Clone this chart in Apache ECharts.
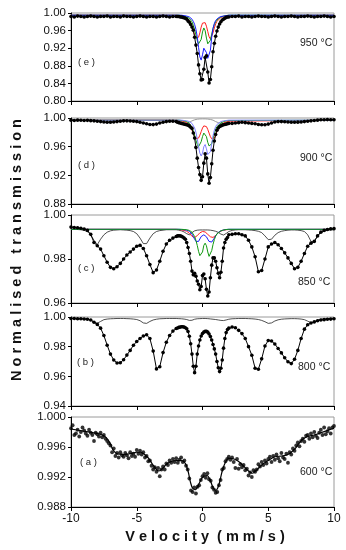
<!DOCTYPE html>
<html><head><meta charset="utf-8">
<script src="https://cdn.jsdelivr.net/npm/echarts@6/dist/echarts.min.js"></script>
<style>html,body{margin:0;padding:0;background:#fff}#c{width:346px;height:550px}</style>
</head><body><div id="c"></div>
<script>
// velocity grid (mm/s) used by panels e-b
const V = [-10,-9.75,-9.5,-9.25,-9,-8.75,-8.5,-8.25,-8,-7.75,-7.5,-7.25,-7,-6.75,-6.5,-6.25,-6,-5.75,-5.5,-5.25,-5,-4.75,-4.5,-4.25,-4,-3.75,-3.5,-3.25,-3,-2.75,-2.5,-2.25,-2,
-1.9,-1.8,-1.7,-1.6,-1.5,-1.4,-1.3,-1.2,-1.1,-1,-0.9,-0.8,-0.7,-0.6,-0.5,-0.4,-0.3,-0.2,-0.1,0,0.1,0.2,0.3,0.4,0.5,0.6,0.7,0.8,0.9,1,1.1,1.2,1.3,1.4,1.5,1.6,1.7,1.8,1.9,
2,2.25,2.5,2.75,3,3.25,3.5,3.75,4,4.25,4.5,4.75,5,5.25,5.5,5.75,6,6.25,6.5,6.75,7,7.25,7.5,7.75,8,8.25,8.5,8.75,9,9.25,9.5,9.75,10];
// velocity grid for central doublet components
const CG = [-10,-2,-1.8,-1.6,-1.4,-1.2,-1.1,-1,-0.9,-0.8,-0.7,-0.6,-0.5,-0.4,-0.3,-0.2,-0.1,0,0.1,0.2,0.3,0.4,0.5,0.6,0.7,0.8,0.9,1,1.1,1.2,1.4,1.6,1.8,2,10];

// (e) 950 C
const eData = [.992,.991,.993,.992,.991,.992,.993,.992,.991,.992,.992,.993,.991,.992,.992,.991,.993,.992,.992,.991,.992,.993,.992,.991,.992,.992,.991,.992,.993,.992,.991,.992,.992,
.992,.992,.991,.991,.990,.989,.988,.986,.982,.979,.974,.968,.961,.945,.927,.908,.882,.862,.848,.849,.872,.899,.903,.866,.841,.849,.878,.912,.931,.947,.959,.968,.975,.980,.984,.986,.988,.990,.991,
.991,.992,.992,.993,.991,.992,.992,.991,.992,.993,.992,.992,.991,.992,.993,.992,.991,.992,.992,.993,.992,.991,.992,.992,.993,.992,.991,.992,.992,.993,.992,.991,.992];
const eRed = [.995,.995,.994,.993,.992,.989,.987,.983,.978,.970,.960,.950,.943,.941,.945,.955,.968,.977,.981,.978,.970,.958,.946,.941,.945,.955,.966,.975,.981,.985,.990,.992,.993,.994,.995];
const eGreen = [.995,.995,.995,.994,.993,.991,.990,.988,.985,.980,.972,.962,.950,.938,.930,.929,.940,.957,.966,.960,.943,.930,.929,.938,.952,.965,.974,.980,.984,.987,.991,.993,.994,.995,.995];
const eBlue = [.995,.995,.995,.995,.994,.993,.992,.991,.989,.986,.981,.974,.963,.946,.922,.900,.893,.905,.920,.921,.910,.897,.895,.915,.945,.965,.976,.983,.987,.989,.992,.993,.994,.995,.995];

// (d) 900 C
const dData = [.997,.9965,.997,.9968,.9965,.9967,.9963,.996,.9955,.995,.9945,.994,.994,.9945,.995,.9955,.996,.996,.9958,.9955,.995,.994,.993,.992,.991,.9908,.9915,.993,.994,.995,.9955,.9955,.995,
.994,.9935,.993,.9925,.992,.9915,.991,.9905,.990,.989,.987,.9855,.979,.972,.959,.944,.931,.921,.913,.918,.937,.950,.944,.922,.909,.917,.936,.955,.968,.977,.983,.986,.988,.989,.990,.9905,.991,.9915,.992,
.9925,.9925,.993,.9935,.994,.9935,.993,.9925,.992,.991,.9905,.9905,.9915,.993,.9945,.995,.995,.9948,.9945,.994,.994,.9942,.9945,.995,.9955,.996,.9965,.997,.9975,.9975,.9978,.9975,.9975];
const dRed = [.997,.997,.9965,.996,.995,.9935,.992,.990,.987,.983,.978,.974,.971,.970,.972,.976,.981,.986,.989,.990,.988,.984,.979,.974,.971,.970,.972,.976,.981,.985,.990,.993,.9945,.9955,.997];
const dGreen = [.997,.997,.997,.9965,.996,.995,.994,.9925,.990,.987,.982,.976,.969,.963,.960,.961,.967,.974,.979,.979,.974,.966,.961,.960,.964,.971,.978,.984,.988,.990,.993,.995,.996,.9965,.997];
const dBlue = [.997,.997,.997,.997,.9965,.996,.9955,.995,.994,.9925,.990,.986,.980,.971,.960,.951,.947,.951,.960,.963,.957,.949,.947,.953,.964,.975,.983,.988,.991,.993,.995,.996,.9965,.997,.997];
const dGray = [null,.995,.994,.993,.9925,.993,.9935,.994,.995,.996,.997,.9975,.998,.9983,.9985,.9987,.9988,.9988,.9988,.9988,.9987,.9985,.9983,.998,.9975,.997,.996,.995,.994,.9935,.993,.9925,.9925,.993,null];

// (c) 850 C
const cData = [.9945,.9943,.9942,.994,.9936,.993,.9912,.9875,.986,.9845,.9815,.9785,.9762,.9756,.9765,.978,.980,.9818,.9832,.9845,.9858,.9862,.9848,.9815,.9775,.9738,.975,.979,.9835,.9868,.9885,.9895,.9902,
.9905,.9906,.9905,.9903,.990,.9895,.989,.9875,.9852,.9825,.979,.9745,.9728,.9735,.9722,.970,.9685,.966,.9675,.9725,.9732,.971,.9662,.9632,.965,.9715,.9772,.9805,.9805,.979,.976,.9735,.9715,.974,.979,.985,.9875,.989,.9898,
.991,.9912,.9915,.9915,.991,.9905,.9885,.9855,.981,.9742,.9748,.980,.9855,.9868,.9875,.9865,.9848,.9828,.9805,.978,.9756,.9762,.979,.9825,.9858,.9872,.988,.9905,.9922,.993,.9934,.9937,.9938];
const cThin = [.9935,.9935,.9934,.9933,.993,.9925,.991,.9885,.9865,.989,.991,.9922,.9928,.9931,.9932,.9933,.9932,.9931,.9929,.9925,.9915,.9895,.987,.987,.9895,.9915,.9925,.9929,.9931,.9933,.9933,.9933,.9933,
.9932,.9931,.993,.9928,.9926,.9923,.992,.9915,.991,.991,.9915,.992,.9925,.9928,.993,.9931,.9932,.9932,.9932,.9932,.9932,.9932,.9932,.9932,.9931,.9931,.993,.9929,.9928,.9926,.9924,.9921,.9917,.9913,.991,.9909,.9911,.9916,.9921,
.9925,.993,.9932,.9933,.9933,.9933,.9932,.9931,.9929,.9926,.992,.9905,.9888,.989,.9908,.992,.9926,.9929,.9931,.9932,.9932,.9931,.9929,.9925,.991,.988,.9878,.9905,.992,.9927,.993,.9932,.9933];
const cRed = [.9935,.9935,.9934,.9932,.993,.9926,.9922,.9917,.991,.9903,.9899,.9898,.990,.9906,.9913,.9919,.9923,.9925,.9925,.9923,.9918,.9912,.9906,.9901,.9898,.9898,.9901,.9907,.9914,.992,.9927,.9931,.9933,.9934,.9935];
const cBlue = [.9935,.9935,.9935,.9934,.9933,.9931,.9929,.9926,.9921,.9913,.9902,.989,.988,.9876,.988,.9891,.9902,.9908,.991,.9908,.9901,.989,.988,.9876,.9877,.9884,.9895,.9906,.9915,.9921,.9928,.9932,.9934,.9935,.9935];
const cGreen = [.9935,.9935,.9935,.9935,.9934,.9933,.9932,.993,.9927,.9922,.9914,.9902,.9885,.9862,.9835,.9815,.9812,.9832,.9862,.9872,.986,.9832,.9812,.9815,.9838,.9866,.9888,.9904,.9914,.9921,.9928,.9932,.9934,.9935,.9935];

// (b) 800 C
const bData = [.999,.999,.9988,.9988,.9987,.9985,.998,.9965,.995,.9925,.9875,.981,.975,.971,.969,.9692,.9712,.9743,.9775,.981,.9835,.9855,.9872,.988,.9855,.977,.965,.9665,.976,.983,.9875,.9905,.9922,
.9926,.993,.9932,.9934,.9934,.9932,.9928,.992,.9902,.987,.982,.975,.9668,.9625,.9668,.975,.9805,.9845,.9872,.9888,.9898,.9903,.9903,.9898,.9885,.9868,.9845,.9815,.9785,.975,.970,.9658,.9632,.9655,.971,.979,.9855,.9895,.9915,
.9925,.9933,.9928,.991,.9888,.9855,.980,.9742,.9655,.9648,.9718,.9805,.9842,.9838,.9818,.9788,.9758,.9725,.9698,.9686,.9715,.9775,.9855,.9918,.9948,.996,.9967,.9975,.998,.9982,.9985,.9986,.9988];
const bThin = [.999,.999,.999,.9989,.9988,.9985,.998,.9965,.9958,.997,.9982,.9986,.9988,.9989,.999,.999,.999,.9989,.9988,.9986,.9983,.9975,.996,.9957,.997,.998,.9985,.9988,.9989,.999,.999,.999,.999,
.999,.9989,.9989,.9988,.9987,.9986,.9985,.9983,.998,.9977,.9976,.9978,.9982,.9985,.9987,.9988,.9989,.9989,.999,.999,.999,.999,.9989,.9989,.9988,.9987,.9986,.9985,.9984,.9983,.9982,.998,.9979,.9977,.9976,.9976,.9978,.998,.9983,
.9985,.9988,.9989,.999,.999,.999,.9989,.9988,.9986,.9983,.9977,.9968,.9957,.996,.9973,.9981,.9985,.9987,.9988,.9989,.9989,.9988,.9986,.9982,.9972,.9962,.9968,.998,.9985,.9988,.9989,.999,.999];

// (a) 600 C
const xA = [-10,-9.875,-9.75,-9.625,-9.5,-9.375,-9.25,-9.125,-9,-8.875,-8.75,-8.625,-8.5,-8.375,-8.25,-8.125,
-8,-7.875,-7.75,-7.625,-7.5,-7.375,-7.25,-7.125,-7,-6.875,-6.75,-6.625,-6.5,-6.375,-6.25,-6.125,
-6,-5.875,-5.75,-5.625,-5.5,-5.375,-5.25,-5.125,-5,-4.875,-4.75,-4.625,-4.5,-4.375,-4.25,-4.125,
-4,-3.875,-3.75,-3.625,-3.5,-3.375,-3.25,-3.125,-3,-2.875,-2.75,-2.625,-2.5,-2.375,-2.25,-2.125,
-2,-1.875,-1.75,-1.625,-1.5,-1.375,-1.25,-1.125,-1,-0.875,-0.75,-0.625,-0.5,-0.375,-0.25,-0.125,
0,0.125,0.25,0.375,0.5,0.625,0.75,0.875,1,1.125,1.25,1.375,1.5,1.625,1.75,1.875,
2,2.125,2.25,2.375,2.5,2.625,2.75,2.875,3,3.125,3.25,3.375,3.5,3.625,3.75,3.875,
4,4.125,4.25,4.375,4.5,4.625,4.75,4.875,5,5.125,5.25,5.375,5.5,5.625,5.75,5.875,
6,6.125,6.25,6.375,6.5,6.625,6.75,6.875,7,7.125,7.25,7.375,7.5,7.625,7.75,7.875,
8,8.125,8.25,8.375,8.5,8.625,8.75,8.875,9,9.125,9.25,9.375,9.5,9.625,9.75,9.875,10];
const aDots = [.9985,.9989,.9976,.9978,.9983,.9974,.9980,.9986,.9982,.9978,.9975,.9983,.9979,.9976,.9968,.9979,
.9977,.9974,.9979,.9973,.9976,.9971,.9968,.9965,.9962,.9953,.9958,.9948,.9952,.9946,.9953,.9949,
.9947,.9952,.9949,.9945,.9953,.9948,.9951,.9947,.9956,.9951,.9955,.9950,.9953,.9946,.9948,.9941,
.9942,.9935,.9930,.9933,.9927,.9932,.9921,.9930,.9934,.9930,.9938,.9936,.9942,.9939,.9944,.9940,
.9945,.9939,.9943,.9946,.9940,.9942,.9935,.9930,.9918,.9902,.9900,.9906,.9898,.9907,.9909,.9916,
.9921,.9924,.9919,.9925,.9917,.9915,.9906,.9903,.9899,.9900,.9909,.9916,.9930,.9932,.9941,.9944,
.9947,.9943,.9946,.9940,.9932,.9944,.9931,.9937,.9933,.9936,.9929,.9931,.9922,.9926,.9920,.9929,
.9927,.9930,.9937,.9934,.9940,.9936,.9942,.9938,.9944,.9947,.9940,.9948,.9943,.9950,.9945,.9941,
.9952,.9946,.9944,.9951,.9939,.9953,.9950,.9958,.9955,.9962,.9966,.9961,.9968,.9971,.9967,.9975,
.9976,.9971,.9978,.9973,.9980,.9975,.9972,.9979,.9983,.9976,.9986,.9977,.9981,.9985,.9978,.9986,.9988];
const xAfit = [-10,-9,-8,-7.5,-7.2,-7,-6.8,-6.5,-6,-5.5,-5,-4.7,-4.4,-4.1,-3.8,-3.5,-3.3,-3,-2.7,-2.3,-2,-1.6,-1.3,-1.1,-0.9,-0.75,-0.55,-0.35,-0.1,0.1,0.35,0.6,0.8,1,1.15,1.3,1.5,1.7,2,2.4,2.8,3.1,3.5,3.8,4.1,4.5,5,5.5,6,6.5,7,7.3,7.6,8,8.5,9,9.5,10];
const aFit = [.9984,.9981,.9978,.9975,.9970,.9964,.9956,.9951,.9950,.9951,.9953,.9953,.9950,.9945,.9937,.9930,.9928,.9932,.9938,.9941,.9942,.9942,.9938,.9928,.9912,.9905,.9903,.9908,.9917,.9921,.9922,.9915,.9906,.9902,.9905,.9913,.9928,.9938,.9945,.9944,.9940,.9935,.9928,.9925,.9929,.9936,.9942,.9947,.9948,.9950,.9957,.9964,.9970,.9974,.9976,.9979,.9982,.9985];

// panel labels and axis ranges
const panelTags = ['( e )','( d )','( c )','( b )','( a )'];
const tempTags = ['950 \u00B0C','900 \u00B0C','850 \u00B0C','800 \u00B0C','600 \u00B0C'];
const yMin = [0.80, 0.88, 0.96, 0.94, 0.988];
const yMax = [1.00, 1.00, 1.00, 1.00, 1.000];
const yStep = [0.04, 0.04, 0.02, 0.02, 0.004];
const yDec = [2, 2, 2, 2, 3];
const xTicks = [-10, 10, 5];

// layout
const tops = [13, 118, 215, 317, 417];
const heights = [88, 86, 88, 89, 90];
const tagPos = [[78,57],[78,160],[78,263],[77,357],[80,457]];
const tempPos = [[300,38],[300,153],[298,277],[298,362],[300,467]];

const FONT = '"Liberation Sans", Arial, sans-serif';
const pairs = (xs, ys) => xs.map((x, i) => [x, ys[i]]);

const grids = [], xAxes = [], yAxes = [], series = [];
for (let i = 0; i < 5; i++) {
  grids.push({left: 71, width: 263, top: tops[i], height: heights[i], show: true, borderColor: '#9a9a9a', borderWidth: 1});
  xAxes.push({gridIndex: i, type: 'value', min: xTicks[0], max: xTicks[1], interval: xTicks[2],
    axisLine: {onZero: false, lineStyle: {color: '#000', width: 1}},
    axisTick: {show: true, inside: false, length: 4, lineStyle: {color: '#000'}},
    axisLabel: {show: i === 4, fontSize: 12, color: '#111', fontFamily: FONT, margin: 6},
    splitLine: {show: false}});
  yAxes.push({gridIndex: i, type: 'value', min: yMin[i], max: yMax[i], interval: yStep[i],
    axisLine: {show: true, onZero: false, lineStyle: {color: '#000', width: 1}},
    axisTick: {show: true, inside: false, length: 3, lineStyle: {color: '#000'}},
    axisLabel: {fontSize: 11.5, color: '#111', fontFamily: FONT, margin: 5,
      formatter: (v) => v.toFixed(yDec[i])},
    splitLine: {show: false}});
}

function comp(i, xs, ys, color, w) {
  series.push({type: 'line', xAxisIndex: i, yAxisIndex: i, data: pairs(xs, ys), showSymbol: false,
    symbol: 'none', lineStyle: {color: color, width: w || 1}, animation: false, silent: true, z: 2});
}
function meas(i, xs, ys) {
  series.push({type: 'line', xAxisIndex: i, yAxisIndex: i, data: pairs(xs, ys), symbol: 'circle',
    symbolSize: 3.6, showSymbol: true, showAllSymbol: true, itemStyle: {color: '#000'},
    lineStyle: {color: '#000', width: 1}, animation: false, silent: true, z: 3});
}

// (e)
comp(0, CG, eRed, '#ff2020'); comp(0, CG, eGreen, '#119911'); comp(0, CG, eBlue, '#1a1aff');
meas(0, V, eData);
// (d)
comp(1, CG, dGray, '#9a9a9a'); comp(1, CG, dRed, '#ff2020'); comp(1, CG, dGreen, '#119911'); comp(1, CG, dBlue, '#8080ff');
meas(1, V, dData);
// (c)
comp(2, V, cThin, '#222', 0.8); comp(2, CG, cRed, '#ff2020'); comp(2, CG, cBlue, '#1a1aff'); comp(2, CG, cGreen, '#119911');
meas(2, V, cData);
// (b)
comp(3, V, bThin, '#222', 0.8);
meas(3, V, bData);
// (a)
series.push({type: 'scatter', xAxisIndex: 4, yAxisIndex: 4, data: pairs(xA, aDots), symbol: 'circle', symbolSize: 3.8,
  itemStyle: {color: '#000'}, animation: false, silent: true, z: 3});
series.push({type: 'line', xAxisIndex: 4, yAxisIndex: 4, data: pairs(xAfit, aFit), smooth: 0.3, showSymbol: false, symbol: 'none',
  lineStyle: {color: '#000', width: 1.2}, animation: false, silent: true, z: 4});

const graphic = [];
for (let i = 0; i < 5; i++) {
  graphic.push({type: 'text', left: tagPos[i][0], top: tagPos[i][1], silent: true,
    style: {text: panelTags[i], font: '9.5px ' + FONT, fill: '#222'}});
  graphic.push({type: 'text', left: tempPos[i][0], top: tempPos[i][1], silent: true,
    style: {text: tempTags[i], font: '10.5px ' + FONT, fill: '#222'}});
}
graphic.push({type: 'text', x: 17, y: 250, rotation: Math.PI / 2, silent: true,
  style: {text: 'N o r m a l i s e d   t r a n s m i s s i o n', font: 'bold 14.5px ' + FONT, fill: '#111', align: 'center', verticalAlign: 'middle'}});
graphic.push({type: 'text', x: 205, y: 537, silent: true,
  style: {text: 'V e l o c i t y  ( m m / s )', font: 'bold 14.5px ' + FONT, fill: '#111', align: 'center', verticalAlign: 'middle'}});

const chart = echarts.init(document.getElementById('c'), null, {renderer: 'canvas'});
chart.setOption({animation: false, backgroundColor: '#fff', grid: grids, xAxis: xAxes, yAxis: yAxes, series: series, graphic: graphic});
</script>
</body></html>
